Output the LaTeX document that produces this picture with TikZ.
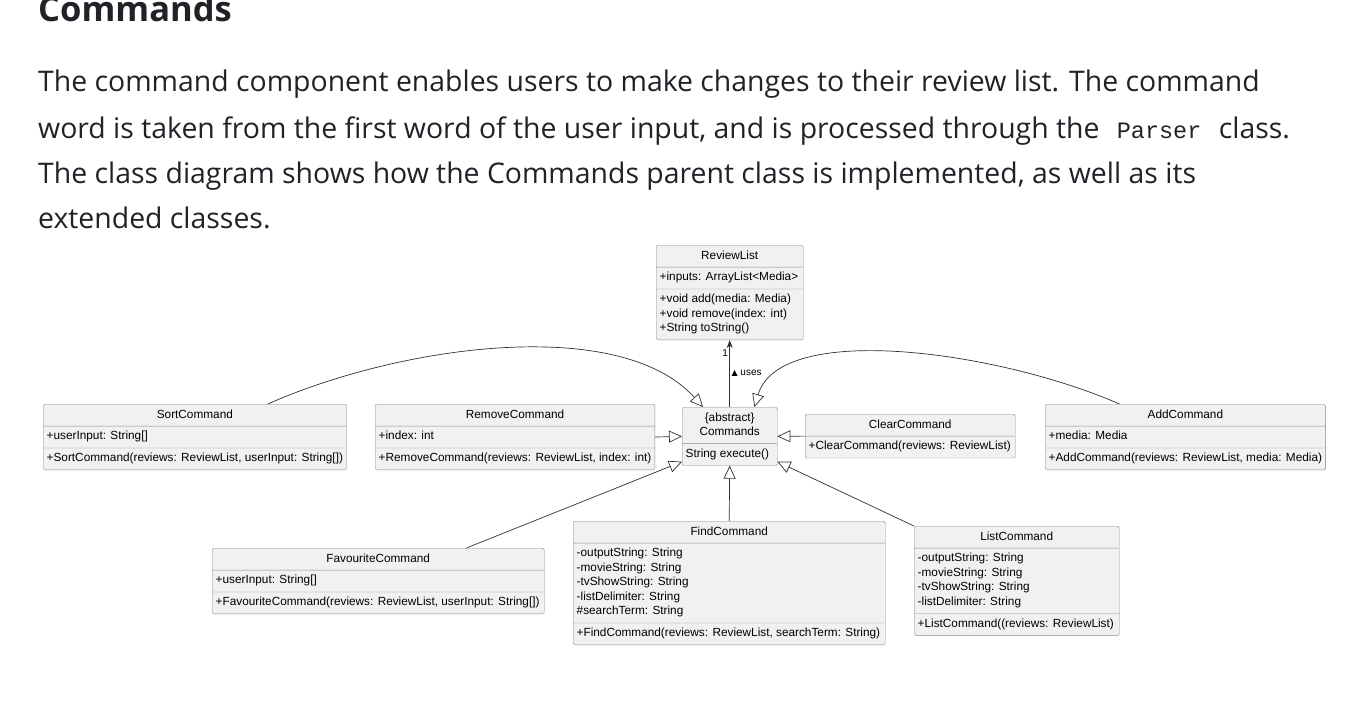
\documentclass[tikz,border=0pt]{standalone}
\usepackage{fontspec}
\setmainfont{Open Sans}
\setmonofont{Liberation Mono}
\newfontfamily\umlfont{Liberation Sans}
\newfontfamily\symfont{DejaVu Sans}
\usetikzlibrary{shapes.multipart,arrows.meta}
\definecolor{txt}{HTML}{1F2328}
\definecolor{boxfill}{HTML}{F1F1F1}
\definecolor{boxline}{HTML}{8A8A8A}
\definecolor{wire}{HTML}{303030}

\begin{document}
\begin{tikzpicture}[x=1pt,y=-1pt,
	para/.style={anchor=base west, inner sep=0pt, text=txt, font=\fontsize{28.4}{34}\selectfont},
	uml/.style={rectangle split, rectangle split parts=3, draw=boxline, fill=boxfill,
		rounded corners=1.5pt, anchor=north west, align=left,
		rectangle split part align={center,left,left}, inner xsep=3.5pt, inner ysep=3.5pt,
		font=\umlfont\fontsize{11.8}{14.5}\selectfont},
	ext/.style={draw=wire, line width=.7pt, -{Triangle[open,length=13pt,width=12pt]}},
	assoc/.style={draw=wire, line width=.7pt, -{Stealth[length=8pt,width=6pt]}},
	lbl/.style={font=\umlfont\fontsize{10}{11}\selectfont, inner sep=1.5pt}]
\useasboundingbox (0,0) rectangle (1359,701);

% text above the diagram
\node[anchor=base west, inner sep=0pt, text=txt, font=\bfseries\fontsize{34.5}{40}\selectfont] (heading) at (38,22) {Commands};
\node[para] (l1) at (38,92) {The command component enables users to make changes to their review list. The command};
\node[para] (l2) at (38,138) {word is taken from the first word of the user input, and is processed through the \hspace{10pt}{\ttfamily\fontsize{23.5}{30}\selectfont Parser}\hspace{10pt} class.};
\node[para] (l3) at (38,183) {The class diagram shows how the Commands parent class is implemented, as well as its};
\node[para] (l4) at (38,228) {extended classes.};

% classes
\node[uml, minimum width=147] (reviewlist) at (656,245)
	{\strut ReviewList
	\nodepart{two}\strut +inputs: ArrayList<Media>
	\nodepart{three}\strut +void add(media: Media)\\\strut +void remove(index: int)\\\strut +String toString()};
\node[uml, rectangle split parts=2, align=center, rectangle split part align={center,left}, minimum width=95] (commands) at (682,407)
	{\strut \{abstract\}\\\strut Commands
	\nodepart{two}\strut String execute()};
\node[uml, minimum width=303] (sort) at (43,404)
	{\strut SortCommand
	\nodepart{two}\strut +userInput: String[]
	\nodepart{three}\strut +SortCommand(reviews: ReviewList, userInput: String[])};
\node[uml, minimum width=278] (remove) at (375,404)
	{\strut RemoveCommand
	\nodepart{two}\strut +index: int
	\nodepart{three}\strut +RemoveCommand(reviews: ReviewList, index: int)};
\node[uml, rectangle split parts=2, rectangle split part align={center,left}, minimum width=210] (clear) at (805,414)
	{\strut ClearCommand
	\nodepart{two}\strut +ClearCommand(reviews: ReviewList)};
\node[uml, minimum width=278] (add) at (1045,404)
	{\strut AddCommand
	\nodepart{two}\strut +media: Media
	\nodepart{three}\strut +AddCommand(reviews: ReviewList, media: Media)};
\node[uml, minimum width=332] (favourite) at (212,548)
	{\strut FavouriteCommand
	\nodepart{two}\strut +userInput: String[]
	\nodepart{three}\strut +FavouriteCommand(reviews: ReviewList, userInput: String[])};
\node[uml, minimum width=312] (find) at (573,521)
	{\strut FindCommand
	\nodepart{two}\strut -outputString: String\\\strut -movieString: String\\\strut -tvShowString: String\\\strut -listDelimiter: String\\\strut \#searchTerm: String
	\nodepart{three}\strut +FindCommand(reviews: ReviewList, searchTerm: String)};
\node[uml, minimum width=205] (list) at (914,526)
	{\strut ListCommand
	\nodepart{two}\strut -outputString: String\\\strut -movieString: String\\\strut -tvShowString: String\\\strut -listDelimiter: String
	\nodepart{three}\strut +ListCommand((reviews: ReviewList)};

% connectors
\draw[assoc] (commands.north) -- node[pos=.8, left, lbl]{1} node[pos=.5, right, lbl]{{\symfont\fontsize{8}{8}\selectfont ▲} uses} (reviewlist.south);
\draw[ext] (remove.east) -- (commands.west);
\draw[ext] (clear.west) -- (commands.east);
\draw[ext] (find.north) -- (commands.south);
\draw[ext] ([xshift=-78pt]favourite.north east) -- ([yshift=4pt]commands.south west);
\draw[ext] (list.north west) -- ([yshift=4pt]commands.south east);
\draw[ext] ([xshift=73pt]sort.north) .. controls +(133,-59) and +(-83,-92) .. ([xshift=21pt]commands.north west);
\draw[ext] ([xshift=-66pt]add.north) .. controls +(-118,-52) and +(26,-87) .. ([xshift=-23pt]commands.north east);
\end{tikzpicture}
\end{document}
